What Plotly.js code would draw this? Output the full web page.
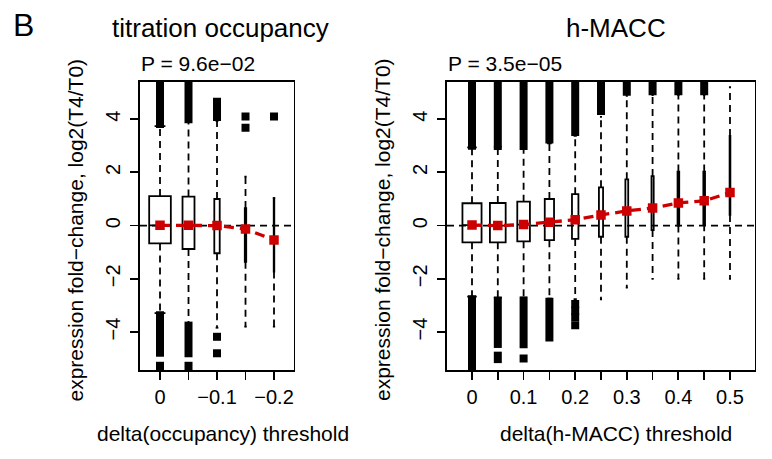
<!DOCTYPE html>
<html>
<head>
<meta charset="utf-8">
<script src="https://cdn.plot.ly/plotly-3.0.1.min.js"></script>
<style>html,body{margin:0;padding:0;background:#fff;}#chart{width:772px;height:459px;}</style>
</head>
<body>
<div id="chart"></div>
<script>
// ---------- data: titration occupancy ----------
const occTickText = ["0", "", "\u22120.1", "", "\u22120.2"];
const occQ1 = [-0.67, -0.88, -1.04, -1.36, -1.73];
const occQ3 = [1.11, 1.09, 1.00, 0.66, 1.03];
const occLoW = [-3.29, -3.66, -3.84, -3.80, -3.80];
const occHiW = [3.74, 3.90, 3.93, 1.84, 1.03];
const occMed = [0.01, 0.01, 0.00, -0.13, -0.54];
const occWidth = [0.76, 0.42, 0.19, 0.05, 0.02];
const occOutRuns = [
  [[3.67, 6], [-4.93, -3.22], [-6, -5.12]],
  [[3.85, 6], [-4.95, -3.61], [-6, -5.12]],
  [[3.93, 4.81]],
  [],
  []
];
const occOutPts = [[], [], [-4.18, -4.8], [4.1, 3.68], [4.1]];

// ---------- data: h-MACC ----------
const maccTickText = ["0", "", "0.1", "", "0.2", "", "0.3", "", "0.4", "", "0.5"];
const maccQ1 = [-0.63, -0.63, -0.59, -0.55, -0.50, -0.42, -0.42, -0.17, 0.00, 0.05, 0.40];
const maccQ3 = [0.84, 0.85, 0.90, 1.00, 1.18, 1.44, 1.74, 1.86, 2.03, 2.03, 3.37];
const maccLoW = [-2.67, -2.71, -2.71, -2.75, -2.77, -2.77, -2.33, -2.00, -2.00, -2.00, -2.00];
const maccHiW = [2.94, 2.97, 2.88, 3.09, 3.37, 4.09, 4.88, 4.91, 4.91, 4.91, 5.20];
const maccMed = [0.02, 0.00, 0.04, 0.13, 0.22, 0.40, 0.55, 0.66, 0.85, 0.93, 1.24];
const maccWidth = [0.74, 0.61, 0.49, 0.36, 0.25, 0.16, 0.11, 0.085, 0.065, 0.065, 0.03];
const maccOutRuns = [
  [[2.85, 6], [-6, -2.62]],
  [[2.84, 6], [-4.6, -2.67], [-5.17, -4.74]],
  [[2.84, 6], [-4.61, -2.67]],
  [[3.09, 6], [-4.36, -2.71]],
  [[3.37, 6]],
  [[4.16, 6]],
  [[4.88, 6]],
  [[4.9, 6]],
  [[4.9, 6]],
  [[4.9, 6]],
  []
];
const maccOutPts = [[], [], [-5.0], [], [-2.95, -3.2, -3.45, -3.75], [], [], [], [], [], []];

const yTickVals = [-4, -2, 0, 2, 4];
const yTickText = ["\u22124", "\u22122", "0", "2", "4"];

// ---------- styling ----------
const W = 772, H = 459;
const FONT = '"Liberation Sans", Arial, Helvetica, sans-serif';
const RED = '#CC0000';
const px = p => p / W;
const py = p => 1 - p / H;

function panel(xa, ya, q1, q3, loW, hiW, med, wid, runs, pts) {
  const tr = [];
  const n = q1.length;
  const idx = q1.map((_, i) => i);
  for (let i = 0; i < n; i++) {
    tr.push({
      type: 'box', xaxis: xa, yaxis: ya, x: [i],
      q1: [q1[i]], median: [med[i]], q3: [q3[i]],
      lowerfence: [q1[i]], upperfence: [q3[i]],
      width: wid[i], boxpoints: false,
      fillcolor: 'rgba(0,0,0,0)', line: {color: 'black', width: 1.8},
      whiskerwidth: 0, hoverinfo: 'skip'
    });
  }
  // whiskers (dashed)
  const wx = [], wy = [];
  idx.forEach(i => { wx.push(i, i, null, i, i, null); wy.push(q3[i], hiW[i], null, q1[i], loW[i], null); });
  tr.push({type: 'scatter', mode: 'lines', xaxis: xa, yaxis: ya, x: wx, y: wy,
    line: {color: 'black', width: 1.8, dash: '7px,5px'}, hoverinfo: 'skip'});
  // staples
  const sx = [], sy = [];
  idx.forEach(i => {
    const h = Math.max(wid[i] / 4, 0.04);
    sx.push(i - h, i + h, null, i - h, i + h, null);
    sy.push(hiW[i], hiW[i], null, loW[i], loW[i], null);
  });
  tr.push({type: 'scatter', mode: 'lines', xaxis: xa, yaxis: ya, x: sx, y: sy,
    line: {color: 'black', width: 1.8}, hoverinfo: 'skip'});
  // dense outlier runs
  const rx = [], ry = [];
  runs.forEach((rs, i) => rs.forEach(r => { rx.push(i, i, null); ry.push(r[0], r[1], null); }));
  tr.push({type: 'scatter', mode: 'lines', xaxis: xa, yaxis: ya, x: rx, y: ry,
    line: {color: 'black', width: 8}, hoverinfo: 'skip'});
  // single outliers
  const ox = [], oy = [];
  pts.forEach((ps, i) => ps.forEach(v => { ox.push(i); oy.push(v); }));
  tr.push({type: 'scatter', mode: 'markers', xaxis: xa, yaxis: ya, x: ox, y: oy,
    marker: {symbol: 'square', size: 8, color: 'black'}, cliponaxis: true, hoverinfo: 'skip'});
  // red median trend
  tr.push({type: 'scatter', mode: 'lines+markers', xaxis: xa, yaxis: ya, x: idx, y: med,
    line: {color: RED, width: 3.3, dash: '10px,6px'},
    marker: {symbol: 'square', size: 9.5, color: RED}, hoverinfo: 'skip'});
  return tr;
}

const data = [].concat(
  panel('x', 'y', occQ1, occQ3, occLoW, occHiW, occMed, occWidth, occOutRuns, occOutPts),
  panel('x2', 'y2', maccQ1, maccQ3, maccLoW, maccHiW, maccMed, maccWidth, maccOutRuns, maccOutPts)
);

const axisCommon = {
  showline: true, mirror: true, linecolor: 'black', linewidth: 1.8,
  ticks: 'outside', ticklen: 8, tickwidth: 1.8, tickcolor: 'black',
  showgrid: false, zeroline: false,
  tickfont: {family: FONT, size: 20, color: 'black'}
};
const yDomain = [py(370), py(81.5)];
const yRange = [-5.429, 5.417];

const layout = {
  width: W, height: H,
  margin: {l: 0, r: 0, t: 0, b: 0, pad: 0},
  paper_bgcolor: 'white', plot_bgcolor: 'white',
  showlegend: false,
  font: {family: FONT, color: 'black'},
  xaxis: Object.assign({}, axisCommon, {domain: [px(140), px(293.5)], anchor: 'y',
    range: [-0.702, 4.684], tickmode: 'array', tickvals: occTickText.map((_, i) => i), ticktext: occTickText,
    tickangle: 0, ticklabelstandoff: 0}),
  yaxis: Object.assign({}, axisCommon, {domain: yDomain, anchor: 'x', range: yRange,
    tickmode: 'array', tickvals: yTickVals, ticktext: yTickText, tickangle: -90, ticklabelstandoff: 2}),
  xaxis2: Object.assign({}, axisCommon, {domain: [px(447), px(754.5)], anchor: 'y2',
    range: [-0.969, 10.95], tickmode: 'array', tickvals: maccTickText.map((_, i) => i), ticktext: maccTickText,
    tickangle: 0, ticklabelstandoff: 0}),
  yaxis2: Object.assign({}, axisCommon, {domain: yDomain, anchor: 'x2', range: yRange,
    tickmode: 'array', tickvals: yTickVals, ticktext: yTickText, tickangle: -90, ticklabelstandoff: 2}),
  shapes: [
    {type: 'line', xref: 'x domain', yref: 'y', x0: 0, x1: 1, y0: 0, y1: 0, layer: 'below',
      line: {color: 'black', width: 1.8, dash: '7px,5px'}},
    {type: 'line', xref: 'x2 domain', yref: 'y2', x0: 0, x1: 1, y0: 0, y1: 0, layer: 'below',
      line: {color: 'black', width: 1.8, dash: '7px,5px'}}
  ],
  annotations: [
    {text: 'B', x: px(12), y: py(24.8), xanchor: 'left', yanchor: 'middle', font: {size: 32}},
    {text: 'titration occupancy', x: px(220), y: py(28), xanchor: 'center', yanchor: 'middle', font: {size: 26}},
    {text: 'h-MACC', x: px(615.5), y: py(28), xanchor: 'center', yanchor: 'middle', font: {size: 26}},
    {text: 'P = 9.6e\u221202', x: px(140), y: py(63.6), xanchor: 'left', yanchor: 'middle', font: {size: 21}},
    {text: 'P = 3.5e\u221205', x: px(446.7), y: py(63.6), xanchor: 'left', yanchor: 'middle', font: {size: 21}},
    {text: 'delta(occupancy) threshold', x: px(223.3), y: py(433.5), xanchor: 'center', yanchor: 'middle', font: {size: 21}},
    {text: 'delta(h-MACC) threshold', x: px(615.7), y: py(433.5), xanchor: 'center', yanchor: 'middle', font: {size: 21}},
    {text: 'expression fold\u2212change, log2(T4/T0)', textangle: -90, x: px(75.5), y: py(230), xanchor: 'center', yanchor: 'middle', font: {size: 21}},
    {text: 'expression fold\u2212change, log2(T4/T0)', textangle: -90, x: px(383), y: py(230), xanchor: 'center', yanchor: 'middle', font: {size: 21}}
  ].map(a => Object.assign({xref: 'paper', yref: 'paper', showarrow: false, borderpad: 0}, a))
};

Plotly.newPlot('chart', data, layout, {staticPlot: true, displayModeBar: false});
</script>
</body>
</html>
